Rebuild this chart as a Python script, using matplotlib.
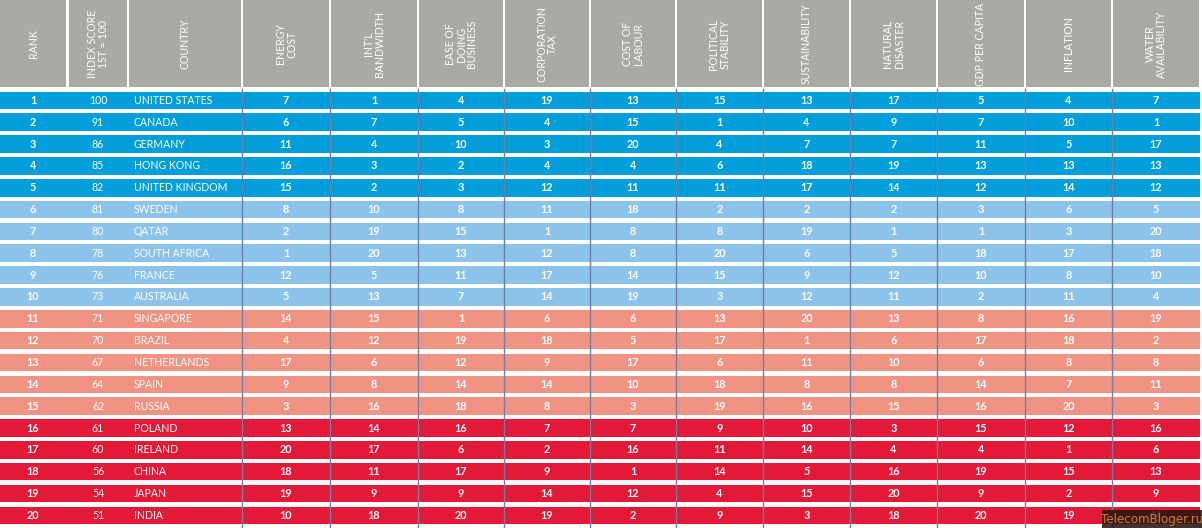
import matplotlib
matplotlib.use("Agg")
import matplotlib.pyplot as plt
from matplotlib.patches import Rectangle

plt.rcParams["font.family"] = ["Lato", "DejaVu Sans"]

headers = [
    "RANK", "INDEX SCORE\n1ST = 100", "COUNTRY", "ENERGY\nCOST", "INT'L\nBANDWIDTH",
    "EASE OF\nDOING\nBUSINESS", "CORPORATION\nTAX", "COST OF\nLABOUR",
    "POLITICAL\nSTABILITY", "SUSTAINABILITY", "NATURAL\nDISASTER",
    "GDP PER CAPITA", "INFLATION", "WATER\nAVAILABILITY",
]

ranks = list(range(1, 21))
index_score = [100, 91, 86, 85, 82, 81, 80, 78, 76, 73, 71, 70, 67, 64, 62, 61, 60, 56, 54, 51]
countries = [
    "UNITED STATES", "CANADA", "GERMANY", "HONG KONG", "UNITED KINGDOM",
    "SWEDEN", "QATAR", "SOUTH AFRICA", "FRANCE", "AUSTRALIA",
    "SINGAPORE", "BRAZIL", "NETHERLANDS", "SPAIN", "RUSSIA",
    "POLAND", "IRELAND", "CHINA", "JAPAN", "INDIA",
]

energy_cost = [7, 6, 11, 16, 15, 8, 2, 1, 12, 5, 14, 4, 17, 9, 3, 13, 20, 18, 19, 10]
intl_bandwidth = [1, 7, 4, 3, 2, 10, 19, 20, 5, 13, 15, 12, 6, 8, 16, 14, 17, 11, 9, 18]
ease_of_business = [4, 5, 10, 2, 3, 8, 15, 13, 11, 7, 1, 19, 12, 14, 18, 16, 6, 17, 9, 20]
corporation_tax = [19, 4, 3, 4, 12, 11, 1, 12, 17, 14, 6, 18, 9, 14, 8, 7, 2, 9, 14, 19]
cost_of_labour = [13, 15, 20, 4, 11, 18, 8, 8, 14, 19, 6, 5, 17, 10, 3, 7, 16, 1, 12, 2]
political_stability = [15, 1, 4, 6, 11, 2, 8, 20, 15, 3, 13, 17, 6, 18, 19, 9, 11, 14, 4, 9]
sustainability = [13, 4, 7, 18, 17, 2, 19, 6, 9, 12, 20, 1, 11, 8, 16, 10, 14, 5, 15, 3]
natural_disaster = [17, 9, 7, 19, 14, 2, 1, 5, 12, 11, 13, 6, 10, 8, 15, 3, 4, 16, 20, 18]
gdp_per_capita = [5, 7, 11, 13, 12, 3, 1, 18, 10, 2, 8, 17, 6, 14, 16, 15, 4, 19, 9, 20]
inflation = [4, 10, 5, 13, 14, 6, 3, 17, 8, 11, 16, 18, 8, 7, 20, 12, 1, 15, 2, 19]
water_availability = [7, 1, 17, 13, 12, 5, 20, 18, 10, 4, 19, 2, 8, 11, 3, 16, 6, 13, 9, 14]

factors = [
    energy_cost, intl_bandwidth, ease_of_business, corporation_tax, cost_of_labour,
    political_stability, sustainability, natural_disaster, gdp_per_capita,
    inflation, water_availability,
]

# column edges in pixels
edges = [0, 68, 128, 242, 330, 418, 504, 590, 676, 763, 850, 937, 1025, 1112, 1200]
band_colors = ["#009fdb", "#8cc3ea", "#f09383", "#e31937"]

W, H = 1202, 528
fig = plt.figure(figsize=(W / 100, H / 100), dpi=100)
ax = fig.add_axes([0, 0, 1, 1])
ax.set_xlim(0, W)
ax.set_ylim(H, 0)
ax.axis("off")

# header
header_bottom = 87
for i, text in enumerate(headers):
    x0, x1 = edges[i], edges[i + 1]
    ax.add_patch(Rectangle((x0 + (1 if i else 0), 0), x1 - x0 - 2, header_bottom,
                           color="#a8aaa3", lw=0))
    ax.text((x0 + x1) / 2, 44, text, rotation=90, ha="center", va="center",
            multialignment="center", color="white", fontsize=7.6, linespacing=1.0)

# rows
top0 = 91.6
pitch = 21.84
row_h = 17.6
for r in range(20):
    y0 = top0 + r * pitch
    yc = y0 + row_h / 2
    color = band_colors[r // 5]
    ax.add_patch(Rectangle((0, y0), 1200, row_h, color=color, lw=0))
    ax.text(33, yc, str(ranks[r]), ha="center", va="center", color="white",
            fontsize=7.8, fontweight="bold")
    ax.text(98, yc, str(index_score[r]), ha="center", va="center", color="white",
            fontsize=7.6)
    ax.text(134, yc, countries[r], ha="left", va="center", color="white",
            fontsize=7.6)
    for c, vals in enumerate(factors):
        x0, x1 = edges[c + 3], edges[c + 4]
        ax.text((x0 + x1) / 2, yc, str(vals[r]), ha="center", va="center",
                color="white", fontsize=7.8, fontweight="bold")

# column dividers in the data area
for x in edges[3:-1]:
    ax.plot([x, x], [header_bottom + 2, H], color="#6f7fa6", lw=1.0)

# watermark on top of the last cell
ax.add_patch(Rectangle((1102, 510), 100, 18, color="#2a1414", alpha=0.88, lw=0,
                       zorder=5))
ax.text(1152, 519.5, "TelecomBloger.ru", ha="center", va="center", zorder=6,
        color="#c9871f", fontsize=8.6, family="DejaVu Sans")

fig.savefig("out.png", dpi=100)
